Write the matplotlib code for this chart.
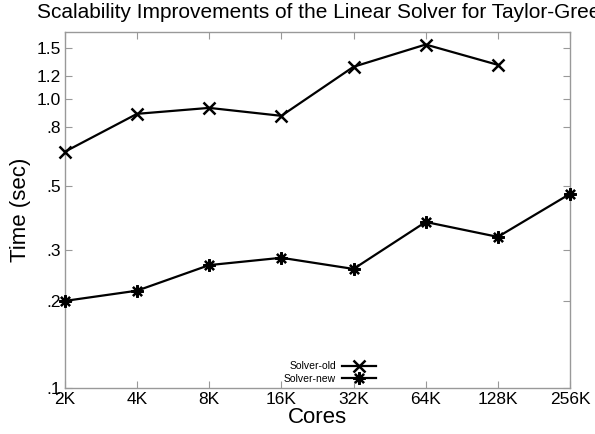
import matplotlib
matplotlib.use("Agg")
import matplotlib.pyplot as plt
from matplotlib.ticker import FixedLocator, FixedFormatter, NullLocator

plt.rcParams['font.family'] = ['Liberation Sans', 'DejaVu Sans']

cores = ["2K", "4K", "8K", "16K", "32K", "64K", "128K", "256K"]
solver_old = [0.656, 0.887, 0.93, 0.873, 1.29, 1.54, 1.31]
solver_new = [0.200, 0.217, 0.266, 0.282, 0.258, 0.375, 0.333, 0.469]
ytick_vals = [0.1, 0.2, 0.3, 0.5, 0.8, 1.0, 1.2, 1.5]
ytick_labels = [".1", ".2", ".3", ".5", ".8", "1.0", "1.2", "1.5"]

fig = plt.figure(figsize=(5.95, 4.34), dpi=100)
ax = fig.add_axes([0.109, 0.106, 0.849, 0.820])

x_old = list(range(len(solver_old)))
x_new = list(range(len(solver_new)))
ax.plot(x_old, solver_old, color='black', lw=1.6, marker='x', ms=8,
        mew=1.8, label='Solver-old', clip_on=False, zorder=3)
ax.plot(x_new, solver_new, color='black', lw=1.6, marker=(8, 2, 0), ms=9,
        mew=1.6, label='Solver-new', clip_on=False, zorder=3)

ax.set_yscale('log')
ax.set_ylim(0.1, 1.7)
ax.set_xlim(0, len(cores) - 1)
ax.yaxis.set_major_locator(FixedLocator(ytick_vals))
ax.yaxis.set_major_formatter(FixedFormatter(ytick_labels))
ax.yaxis.set_minor_locator(NullLocator())
ax.set_xticks(range(len(cores)))
ax.set_xticklabels(cores)

for s in ax.spines.values():
    s.set_color('#999999')
    s.set_linewidth(1.0)
ax.tick_params(direction='in', length=5, color='#999999', labelsize=12.5,
               top=True, right=True, pad=3)

ax.set_ylabel("Time (sec)", fontsize=16, labelpad=4)
ax.set_xlabel("Cores", fontsize=16, labelpad=0)
fig.text(37 / 595, 1 - 12 / 434, "Scalability Improvements of the Linear Solver for Taylor-Green",
         fontsize=15, ha='left', va='center')

leg = ax.legend(loc='lower left', bbox_to_anchor=(0.415, -0.015), frameon=False,
                markerfirst=False, fontsize=7.5, handlelength=3.2,
                labelspacing=0.25, handletextpad=0.6)
for t in leg.get_texts():
    t.set_ha('right')

fig.savefig("out.png", dpi=100)
